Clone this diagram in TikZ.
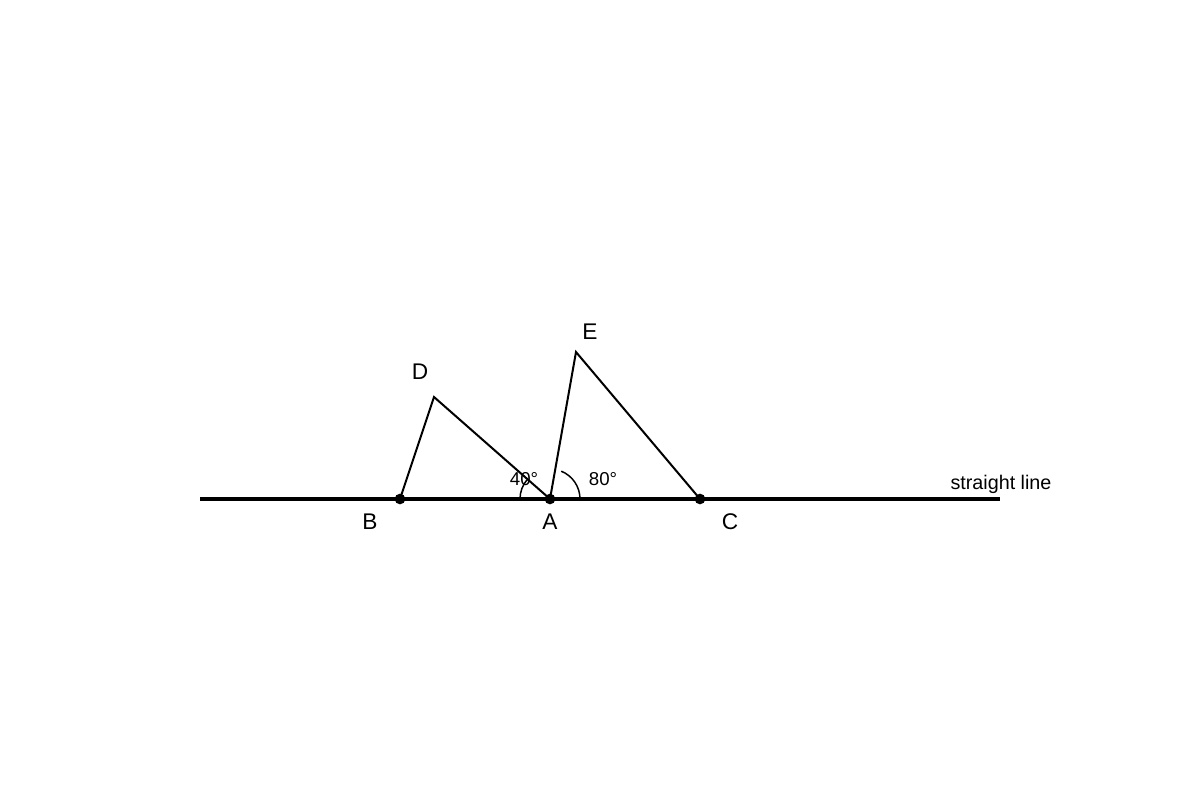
\documentclass[tikz,border=0pt]{standalone}
\usepackage{fontspec}
\setmainfont{Liberation Sans}
\begin{document}
\begin{tikzpicture}[x=0.75pt,y=-0.75pt,
  seg/.style={line width=1.5pt,line join=miter},
  mainline/.style={line width=2.3pt},
  pt/.style={circle,fill=black,inner sep=0pt,minimum size=8pt},
  biglab/.style={font=\fontsize{17pt}{20pt}\selectfont,inner sep=0pt},
  smalllab/.style={font=\fontsize{14pt}{16pt}\selectfont,inner sep=0pt},
  linelab/.style={font=\fontsize{14.8pt}{17pt}\selectfont,inner sep=0pt},
  arcline/.style={line width=1.1pt}]
\useasboundingbox (0,0) rectangle (1200,800);
\coordinate (L) at (200,499);
\coordinate (R) at (1000,499);
\coordinate (B) at (400,499);
\coordinate (A) at (550,499);
\coordinate (C) at (700,499);
\coordinate (D) at (434,397);
\coordinate (E) at (576,352);
\draw[mainline] (L) -- (R);
\draw[seg] (B) -- (D) -- (A);
\draw[seg] (A) -- (E) -- (C);
\draw[arcline] ([shift={(180:30)}]A) arc[start angle=180,end angle=220,radius=30];
\draw[arcline] ([shift={(0:30)}]A) arc[start angle=0,end angle=-68,radius=30];
\node[pt] (pB) at (B) {};
\node[pt] (pA) at (A) {};
\node[pt] (pC) at (C) {};
\node[biglab] (lB) at (370,522) {B};
\node[biglab] (lA) at (550,522) {A};
\node[biglab] (lC) at (730,522) {C};
\node[biglab] (lD) at (420,372) {D};
\node[biglab] (lE) at (590,332) {E};
\node[smalllab] (a40) at (524,479) {40°};
\node[smalllab] (a80) at (603,479) {80°};
\node[linelab] (sl) at (1001,484) {straight line};
\end{tikzpicture}
\end{document}
